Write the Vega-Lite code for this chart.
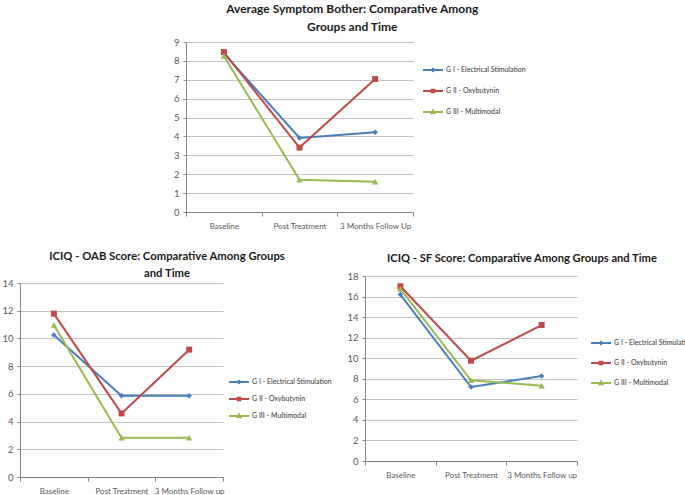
{
  "$schema": "https://vega.github.io/schema/vega-lite/v6.json",
  "background": "white",
  "padding": {"left": 1, "top": 3, "right": 0, "bottom": 0},
  "data": {"values": [
    {"chart": "A", "time": "Baseline", "group": "G I - Electrical Stimulation", "value": 8.4},
    {"chart": "A", "time": "Baseline", "group": "G II - Oxybutynin", "value": 8.47},
    {"chart": "A", "time": "Baseline", "group": "G III - Multimodal", "value": 8.26},
    {"chart": "A", "time": "Post  Treatment", "group": "G I - Electrical Stimulation", "value": 3.92},
    {"chart": "A", "time": "Post  Treatment", "group": "G II - Oxybutynin", "value": 3.41},
    {"chart": "A", "time": "Post  Treatment", "group": "G III - Multimodal", "value": 1.71},
    {"chart": "A", "time": "3 Months Follow Up", "group": "G I - Electrical Stimulation", "value": 4.22},
    {"chart": "A", "time": "3 Months Follow Up", "group": "G II - Oxybutynin", "value": 7.04},
    {"chart": "A", "time": "3 Months Follow Up", "group": "G III - Multimodal", "value": 1.6},
    {"chart": "B", "time": "Baseline", "group": "G I - Electrical Stimulation", "value": 10.25},
    {"chart": "B", "time": "Baseline", "group": "G II - Oxybutynin", "value": 11.79},
    {"chart": "B", "time": "Baseline", "group": "G III - Multimodal", "value": 10.97},
    {"chart": "B", "time": "Post Treatment", "group": "G I - Electrical Stimulation", "value": 5.87},
    {"chart": "B", "time": "Post Treatment", "group": "G II - Oxybutynin", "value": 4.59},
    {"chart": "B", "time": "Post Treatment", "group": "G III - Multimodal", "value": 2.84},
    {"chart": "B", "time": "3 Months Follow up", "group": "G I - Electrical Stimulation", "value": 5.87},
    {"chart": "B", "time": "3 Months Follow up", "group": "G II - Oxybutynin", "value": 9.19},
    {"chart": "B", "time": "3 Months Follow up", "group": "G III - Multimodal", "value": 2.84},
    {"chart": "C", "time": "Baseline", "group": "G I - Electrical Stimulation", "value": 16.19},
    {"chart": "C", "time": "Baseline", "group": "G II - Oxybutynin", "value": 17.0},
    {"chart": "C", "time": "Baseline", "group": "G III - Multimodal", "value": 16.74},
    {"chart": "C", "time": "Post Treatment", "group": "G I - Electrical Stimulation", "value": 7.2},
    {"chart": "C", "time": "Post Treatment", "group": "G II - Oxybutynin", "value": 9.76},
    {"chart": "C", "time": "Post Treatment", "group": "G III - Multimodal", "value": 7.85},
    {"chart": "C", "time": "3 Months Follow up", "group": "G I - Electrical Stimulation", "value": 8.27},
    {"chart": "C", "time": "3 Months Follow up", "group": "G II - Oxybutynin", "value": 13.23},
    {"chart": "C", "time": "3 Months Follow up", "group": "G III - Multimodal", "value": 7.33}
  ]},
  "config": {
    "font": "Lato",
    "view": {"stroke": null},
    "axis": {
      "labelFont": "Lato", "labelColor": "#595959", "domainColor": "#868686", "tickColor": "#868686",
      "gridColor": "#c4c4c4", "gridWidth": 1, "tickSize": 4, "labelPadding": 2, "title": null
    },
    "axisX": {"labelFontSize": 8, "labelAngle": 0, "grid": false, "tickBand": "extent", "labelPadding": 6},
    "axisY": {"labelFontSize": 9.5, "grid": true, "tickSize": 3, "labelPadding": 4},
    "legend": {
      "title": null, "orient": "none", "labelFontSize": 7, "labelColor": "#333333", "labelOffset": 2,
      "symbolSize": 400, "symbolStrokeWidth": 2, "rowPadding": 4
    },
    "title": {"font": "Lato", "fontWeight": "bold", "color": "#1a1a1a", "frame": "bounds", "anchor": "middle"}
  },
  "spacing": 20,
  "center": true,
  "resolve": {"scale": {"x": "independent", "y": "independent", "color": "independent"}, "legend": {"color": "independent"}},
  "vconcat": [
    {
      "width": 227, "height": 170,
      "title": {"text": ["Average Symptom Bother: Comparative Among", "Groups and Time"], "fontSize": 12, "lineHeight": 18, "offset": 3},
      "transform": [{"filter": "datum.chart === 'A'"}],
      "encoding": {
        "x": {"field": "time", "type": "nominal", "sort": ["Baseline", "Post  Treatment", "3 Months Follow Up"], "scale": {"type": "band", "paddingInner": 0, "paddingOuter": 0}},
        "y": {"field": "value", "type": "quantitative", "scale": {"domain": [0, 9]}, "axis": {"values": [0, 1, 2, 3, 4, 5, 6, 7, 8, 9]}},
        "color": {"field": "group", "type": "nominal",
          "scale": {"domain": ["G I - Electrical Stimulation", "G II - Oxybutynin", "G III - Multimodal"], "range": ["#4A7EBB", "#BE4B48", "#98B954"]},
          "legend": {"legendX": 231, "legendY": 12, "padding": 5,
            "encode": {"symbols": {"update": {
              "shape": {"signal": "datum.value === 'G I - Electrical Stimulation' ? 'M-1,0H1M0,-0.12L0.12,0L0,0.12L-0.12,0Z' : datum.value === 'G II - Oxybutynin' ? 'M-1,0H1M-0.13,-0.13H0.13V0.13H-0.13Z' : 'M-1,0H1M0,-0.15L0.15,0.12H-0.15Z'"},
              "fill": {"signal": "datum.value === 'G I - Electrical Stimulation' ? '#4A7EBB' : datum.value === 'G II - Oxybutynin' ? '#BE4B48' : '#98B954'"},
              "stroke": {"signal": "datum.value === 'G I - Electrical Stimulation' ? '#4A7EBB' : datum.value === 'G II - Oxybutynin' ? '#BE4B48' : '#98B954'"},
              "opacity": {"value": 1}
            }}}}
        }
      },
      "layer": [
        {"mark": {"type": "line", "strokeWidth": 2}},
        {"transform": [{"filter": "datum.group === 'G I - Electrical Stimulation'"}], "mark": {"type": "point", "filled": true, "opacity": 1, "size": 30, "shape": "diamond"}},
        {"transform": [{"filter": "datum.group === 'G II - Oxybutynin'"}], "mark": {"type": "point", "filled": true, "opacity": 1, "size": 36, "shape": "square"}},
        {"transform": [{"filter": "datum.group === 'G III - Multimodal'"}], "mark": {"type": "point", "filled": true, "opacity": 1, "size": 40, "shape": "triangle-up"}}
      ]
    },
    {
      "spacing": 14,
      "align": "none",
      "resolve": {"scale": {"x": "independent", "y": "independent", "color": "independent"}, "legend": {"color": "independent"}},
      "hconcat": [
        {
          "title": {"text": ["ICIQ - OAB Score: Comparative Among Groups", "and Time"], "fontSize": 11.3, "lineHeight": 17, "offset": -3},
          "spacing": 1,
          "resolve": {"scale": {"color": "independent"}, "legend": {"color": "independent"}},
          "vconcat": [
            {"width": 203, "height": 1, "data": {"values": []}, "mark": {"type": "point"}, "encoding": {}},
            {
              "width": 203, "height": 194,
              "transform": [{"filter": "datum.chart === 'B'"}],
              "encoding": {
                "x": {"field": "time", "type": "nominal", "sort": ["Baseline", "Post Treatment", "3 Months Follow up"], "scale": {"type": "band", "paddingInner": 0, "paddingOuter": 0}},
                "y": {"field": "value", "type": "quantitative", "scale": {"domain": [0, 14]}, "axis": {"values": [0, 2, 4, 6, 8, 10, 12, 14]}},
                "color": {"field": "group", "type": "nominal",
                  "scale": {"domain": ["G I - Electrical Stimulation", "G II - Oxybutynin", "G III - Multimodal"], "range": ["#4A7EBB", "#BE4B48", "#98B954"]},
                  "legend": {"legendX": 208, "legendY": 88, "rowPadding": 0,
                    "encode": {"symbols": {"update": {
                      "shape": {"signal": "datum.value === 'G I - Electrical Stimulation' ? 'M-1,0H1M0,-0.12L0.12,0L0,0.12L-0.12,0Z' : datum.value === 'G II - Oxybutynin' ? 'M-1,0H1M-0.13,-0.13H0.13V0.13H-0.13Z' : 'M-1,0H1M0,-0.15L0.15,0.12H-0.15Z'"},
                      "fill": {"signal": "datum.value === 'G I - Electrical Stimulation' ? '#4A7EBB' : datum.value === 'G II - Oxybutynin' ? '#BE4B48' : '#98B954'"},
                      "stroke": {"signal": "datum.value === 'G I - Electrical Stimulation' ? '#4A7EBB' : datum.value === 'G II - Oxybutynin' ? '#BE4B48' : '#98B954'"},
                      "opacity": {"value": 1}
                    }}}}
                }
              },
              "layer": [
                {"mark": {"type": "line", "strokeWidth": 2}},
                {"transform": [{"filter": "datum.group === 'G I - Electrical Stimulation'"}], "mark": {"type": "point", "filled": true, "opacity": 1, "size": 30, "shape": "diamond"}},
                {"transform": [{"filter": "datum.group === 'G II - Oxybutynin'"}], "mark": {"type": "point", "filled": true, "opacity": 1, "size": 36, "shape": "square"}},
                {"transform": [{"filter": "datum.group === 'G III - Multimodal'"}], "mark": {"type": "point", "filled": true, "opacity": 1, "size": 40, "shape": "triangle-up"}}
              ]
            }
          ]
        },
        {
          "width": 212, "height": 185,
          "title": {"text": "ICIQ - SF Score: Comparative Among Groups and Time", "fontSize": 11.2, "offset": 7},
          "transform": [{"filter": "datum.chart === 'C'"}],
          "encoding": {
            "x": {"field": "time", "type": "nominal", "sort": ["Baseline", "Post Treatment", "3 Months Follow up"], "scale": {"type": "band", "paddingInner": 0, "paddingOuter": 0}},
            "y": {"field": "value", "type": "quantitative", "scale": {"domain": [0, 18]}, "axis": {"values": [0, 2, 4, 6, 8, 10, 12, 14, 16, 18]}},
            "color": {"field": "group", "type": "nominal",
              "scale": {"domain": ["G I - Electrical Stimulation", "G II - Oxybutynin", "G III - Multimodal"], "range": ["#4A7EBB", "#BE4B48", "#98B954"]},
              "legend": {"legendX": 222, "legendY": 53, "rowPadding": 3, "padding": 3,
                "encode": {"symbols": {"update": {
                  "shape": {"signal": "datum.value === 'G I - Electrical Stimulation' ? 'M-1,0H1M0,-0.12L0.12,0L0,0.12L-0.12,0Z' : datum.value === 'G II - Oxybutynin' ? 'M-1,0H1M-0.13,-0.13H0.13V0.13H-0.13Z' : 'M-1,0H1M0,-0.15L0.15,0.12H-0.15Z'"},
                  "fill": {"signal": "datum.value === 'G I - Electrical Stimulation' ? '#4A7EBB' : datum.value === 'G II - Oxybutynin' ? '#BE4B48' : '#98B954'"},
                  "stroke": {"signal": "datum.value === 'G I - Electrical Stimulation' ? '#4A7EBB' : datum.value === 'G II - Oxybutynin' ? '#BE4B48' : '#98B954'"},
                  "opacity": {"value": 1}
                }}}}
            }
          },
          "layer": [
            {"mark": {"type": "line", "strokeWidth": 2}},
            {"transform": [{"filter": "datum.group === 'G I - Electrical Stimulation'"}], "mark": {"type": "point", "filled": true, "opacity": 1, "size": 30, "shape": "diamond"}},
            {"transform": [{"filter": "datum.group === 'G II - Oxybutynin'"}], "mark": {"type": "point", "filled": true, "opacity": 1, "size": 36, "shape": "square"}},
            {"transform": [{"filter": "datum.group === 'G III - Multimodal'"}], "mark": {"type": "point", "filled": true, "opacity": 1, "size": 40, "shape": "triangle-up"}}
          ]
        }
      ]
    }
  ]
}
